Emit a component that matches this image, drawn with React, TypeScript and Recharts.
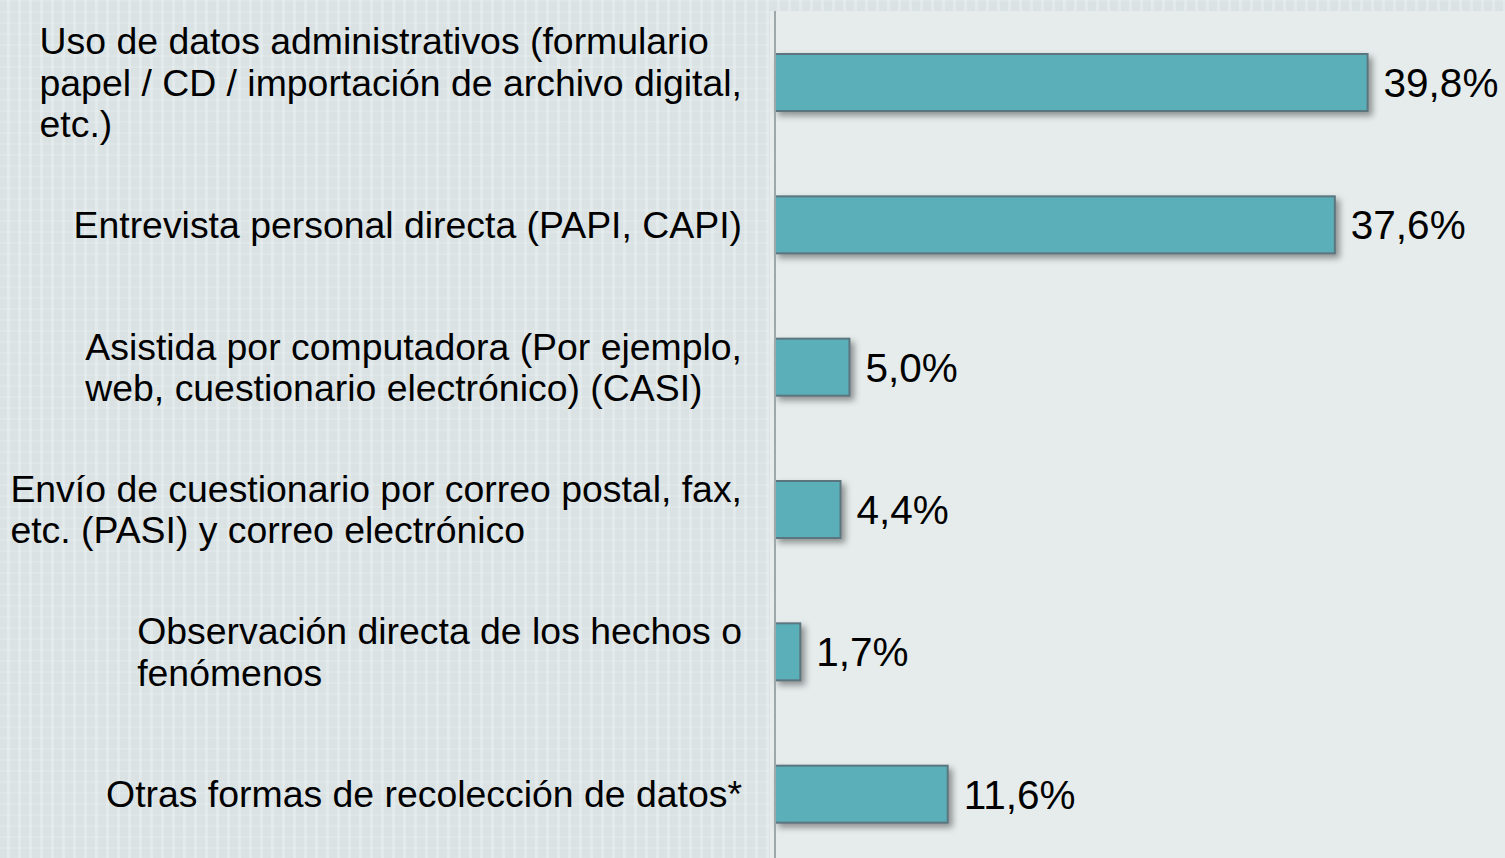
import React from 'react';
import { BarChart, Bar, XAxis, YAxis, LabelList } from 'recharts';

const categories: string[] = [
  'Uso de datos administrativos (formulario\npapel / CD / importación de archivo digital,\netc.)',
  'Entrevista personal directa (PAPI, CAPI)',
  'Asistida por computadora (Por ejemplo,\nweb, cuestionario electrónico) (CASI)',
  'Envío de cuestionario por correo postal, fax,\netc. (PASI) y correo electrónico',
  'Observación directa de los hechos o\nfenómenos',
  'Otras formas de recolección de datos*',
];
const values: number[] = [39.8, 37.6, 5.0, 4.4, 1.7, 11.6];

const data = categories.map((c, i) => ({ name: c, value: values[i] }));

const FONT = "'Liberation Sans', Arial, Helvetica, sans-serif";
const LABEL_SIZE = 37.4;
const LINE_H = 41.5;

let ctx: CanvasRenderingContext2D | null = null;
function measure(t: string): number {
  if (!ctx) {
    const c = document.createElement('canvas');
    ctx = c.getContext('2d');
  }
  if (!ctx) return t.length * LABEL_SIZE * 0.5;
  ctx.font = `${LABEL_SIZE}px ${FONT}`;
  return ctx.measureText(t).width;
}

const CategoryTick = (props: any) => {
  const { x, y, payload } = props;
  const lines: string[] = String(payload.value).split('\n');
  const maxW = Math.max(...lines.map(measure));
  const left = x - maxW;
  const n = lines.length;
  return (
    <g>
      {lines.map((ln, i) => (
        <text
          key={i}
          x={left}
          y={y + (i - (n - 1) / 2) * LINE_H}
          dy="0.36em"
          textAnchor="start"
          fontSize={LABEL_SIZE}
          fontFamily={FONT}
          fill="#000"
        >
          {ln}
        </text>
      ))}
    </g>
  );
};

const ShadowBar = (props: any) => {
  const { x, y, width, height } = props;
  return (
    <rect
      x={x}
      y={y}
      width={Math.max(width, 0)}
      height={height}
      fill="#5aafb8"
      stroke="#5c7680"
      strokeWidth={2}
      style={{ filter: 'drop-shadow(4px 4px 3px rgba(0,0,0,0.38))' }}
    />
  );
};

const fmt = (v: any) => `${Number(v).toFixed(1).replace('.', ',')}%`;

const stripes =
  'repeating-linear-gradient(90deg, rgba(255,255,255,0) 0px, rgba(255,255,255,0) 7px, rgba(238,243,244,0.45) 7px, rgba(238,243,244,0.45) 10px, rgba(255,255,255,0) 10px, rgba(255,255,255,0) 11px),' +
  'repeating-linear-gradient(0deg, rgba(255,255,255,0) 0px, rgba(255,255,255,0) 9px, rgba(236,242,243,0.25) 9px, rgba(236,242,243,0.25) 11px)';

export default function App() {
  return (
    <div
      style={{
        position: 'absolute',
        left: 0,
        top: 0,
        width: 1505,
        height: 858,
        overflow: 'hidden',
        background: '#e6ecec',
      }}
    >
      <div
        style={{
          position: 'absolute',
          left: 0,
          top: 0,
          width: 1505,
          height: 11,
          backgroundColor: '#dae2e4',
          backgroundImage: stripes,
        }}
      />
      <div
        style={{
          position: 'absolute',
          left: 0,
          top: 0,
          width: 770,
          height: 858,
          backgroundColor: '#dae2e4',
          backgroundImage: stripes,
        }}
      />
      <div style={{ position: 'absolute', left: 0, top: 0 }}>
        <BarChart
          width={1505}
          height={865}
          data={data}
          layout="vertical"
          margin={{ top: 11, right: 60, bottom: 0, left: 0 }}
        >
          <XAxis type="number" domain={[0, 45]} hide />
          <YAxis
            type="category"
            dataKey="name"
            width={775}
            tickLine={false}
            tickSize={0}
            tickMargin={33}
            axisLine={{ stroke: '#9ea7aa', strokeWidth: 2 }}
            tick={<CategoryTick />}
            interval={0}
          />
          <Bar dataKey="value" barSize={57} shape={<ShadowBar />} isAnimationActive={false}>
            <LabelList
              dataKey="value"
              position="right"
              offset={16}
              formatter={fmt}
              fontSize={40.5}
              fontFamily={FONT}
              fill="#000"
            />
          </Bar>
        </BarChart>
      </div>
    </div>
  );
}
